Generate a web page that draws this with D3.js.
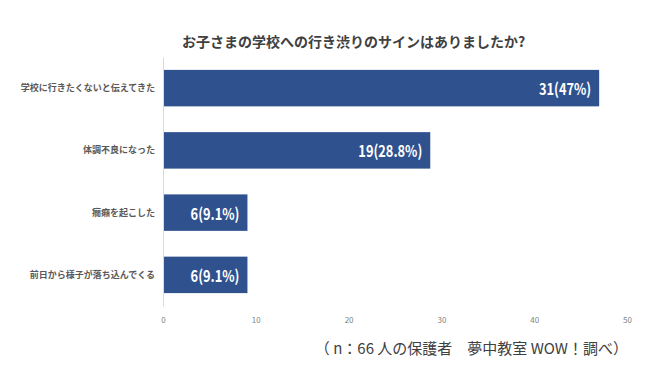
<!DOCTYPE html>
<html>
<head>
<meta charset="utf-8">
<script src="https://cdn.jsdelivr.net/npm/d3@7"></script>
<style>
  html, body { margin: 0; padding: 0; background: #ffffff; }
  svg { display: block; font-family: "Noto Sans CJK JP", "Noto Sans", sans-serif; }
</style>
</head>
<body>
<svg id="chart" width="650" height="380"></svg>
<script>
const title = "お子さまの学校への行き渋りのサインはありましたか?";
const categories = ["学校に行きたくないと伝えてきた", "体調不良になった", "癇癪を起こした", "前日から様子が落ち込んでくる"];
const counts = [31, 19, 6, 6];
const percents = [47, 28.8, 9.1, 9.1];
const xTicks = [0, 10, 20, 30, 40, 50];
const footnote = "（ n：66 人の保護者　夢中教室 WOW！調べ）";

const svg = d3.select("#chart");
const W = 650, H = 380;
svg.append("rect").attr("width", W).attr("height", H).attr("fill", "#ffffff");

const x = d3.scaleLinear().domain([0, 50]).range([163, 627]);
const y = d3.scaleBand().domain(categories).range([57, 306]).paddingInner(0.414).paddingOuter(0.207);

// title
svg.append("text")
  .attr("x", 353.5).attr("y", 41)
  .attr("text-anchor", "middle").attr("dominant-baseline", "central")
  .attr("font-size", 14).attr("font-weight", "bold").attr("fill", "#404040")
  .text(title);

// bars
const data = categories.map((c, i) => ({ c, n: counts[i], p: percents[i] }));
svg.append("g").selectAll("rect").data(data).join("rect")
  .attr("x", x(0)).attr("y", d => y(d.c))
  .attr("width", d => x(d.p) - x(0)).attr("height", y.bandwidth())
  .attr("fill", "#2F528F");

// value labels (condensed look)
svg.append("g").selectAll("text").data(data).join("text")
  .attr("x", d => x(d.p) - 8)
  .attr("y", d => y(d.c) + y.bandwidth() / 2)
  .attr("text-anchor", "end").attr("dominant-baseline", "central")
  .attr("font-size", 16).attr("font-weight", "bold").attr("fill", "#ffffff")
  .text(d => `${d.n}(${d.p}%)`)
  .each(function () {
    const len = this.getComputedTextLength();
    d3.select(this).attr("textLength", len * 0.8).attr("lengthAdjust", "spacingAndGlyphs");
  });

// category axis
const yAxis = svg.append("g").attr("transform", `translate(${x(0)},0)`)
  .call(d3.axisLeft(y).tickSize(0).tickPadding(8));
yAxis.select(".domain").attr("stroke", "#d9d9d9").attr("stroke-width", 1);
yAxis.selectAll("text")
  .attr("font-size", 9).attr("font-weight", "bold").attr("fill", "#595959")
  .attr("font-family", "Noto Sans CJK JP");

// value axis (labels only)
const xAxis = svg.append("g").attr("transform", `translate(0,306)`)
  .call(d3.axisBottom(x).tickValues(xTicks).tickSize(0).tickPadding(11));
xAxis.select(".domain").remove();
xAxis.selectAll("text")
  .attr("font-size", 8).attr("fill", "#7f7f7f")
  .attr("font-family", "Noto Sans CJK JP");

// footnote
svg.append("text")
  .attr("x", 628).attr("y", 347)
  .attr("text-anchor", "end").attr("dominant-baseline", "central")
  .attr("font-size", 15).attr("fill", "#404040")
  .text(footnote);
</script>
</body>
</html>
